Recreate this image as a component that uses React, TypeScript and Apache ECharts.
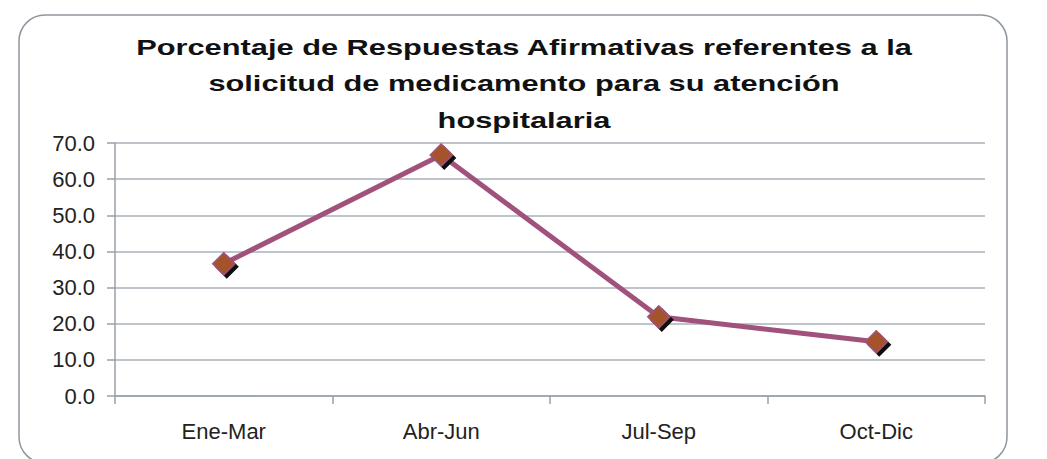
import React, { useEffect, useRef } from "react";
import * as echarts from "echarts";

const categories = ["Ene-Mar", "Abr-Jun", "Jul-Sep", "Oct-Dic"];
const values = [36.6, 66.7, 21.9, 15.0];
const yTicks = { min: 0, max: 70, interval: 10 };
const titleLines = [
  "Porcentaje de Respuestas Afirmativas referentes a la",
  "solicitud de medicamento para su atención",
  "hospitalaria",
];

export default function App() {
  const ref = useRef<HTMLDivElement>(null);
  useEffect(() => {
    document.body.style.margin = "0";
    const chart = echarts.init(ref.current!, null, { renderer: "svg" });
    const axisGrey = "#98a0a8";
    chart.setOption({
      animation: false,
      backgroundColor: "#ffffff",
      textStyle: { fontFamily: "Liberation Sans, Arial, sans-serif" },
      graphic: [
        {
          type: "rect",
          shape: { x: 19, y: 15, width: 988, height: 448, r: 26 },
          style: { fill: "none", stroke: "#8e969e", lineWidth: 1.5 },
          silent: true,
        },
        {
          type: "text",
          x: 524,
          y: 84,
          scaleX: 1.4,
          style: {
            text: titleLines.join("\n"),
            fontSize: 22,
            fontWeight: "bold",
            fontFamily: "Liberation Sans, Arial, sans-serif",
            fill: "#111",
            align: "center",
            verticalAlign: "middle",
            lineHeight: 36.5,
          },
        },
      ],
      grid: { left: 115, right: 62, top: 143, bottom: 63, containLabel: false },
      xAxis: {
        type: "category",
        data: categories,
        boundaryGap: true,
        axisLine: { show: true, lineStyle: { color: axisGrey, width: 1.5 } },
        axisTick: { show: true, length: 8, interval: 0, lineStyle: { color: axisGrey, width: 1.5 } },
        axisLabel: { fontSize: 22, color: "#222", margin: 24, interval: 0 },
        splitLine: { show: false },
      },
      yAxis: {
        type: "value",
        min: yTicks.min,
        max: yTicks.max,
        interval: yTicks.interval,
        axisLine: { show: true, lineStyle: { color: axisGrey, width: 1.5 } },
        axisTick: { show: true, length: 8, lineStyle: { color: axisGrey, width: 1.5 } },
        axisLabel: {
          fontSize: 22,
          color: "#222",
          margin: 20,
          formatter: (v: number) => v.toFixed(1),
        },
        splitLine: { show: true, lineStyle: { color: "#a9b0b7", width: 1.5 } },
      },
      series: [
        {
          type: "line",
          data: values,
          symbol: "diamond",
          symbolSize: 22,
          lineStyle: { color: "#a0527c", width: 5 },
          itemStyle: {
            color: "#a4532b",
            borderColor: "#a0527c",
            borderWidth: 1.5,
            shadowColor: "#111",
            shadowOffsetX: 3,
            shadowOffsetY: 3,
            shadowBlur: 0,
          },
          z: 3,
        },
      ],
    });
    return () => chart.dispose();
  }, []);
  return <div ref={ref} style={{ width: 1047, height: 459 }} />;
}
